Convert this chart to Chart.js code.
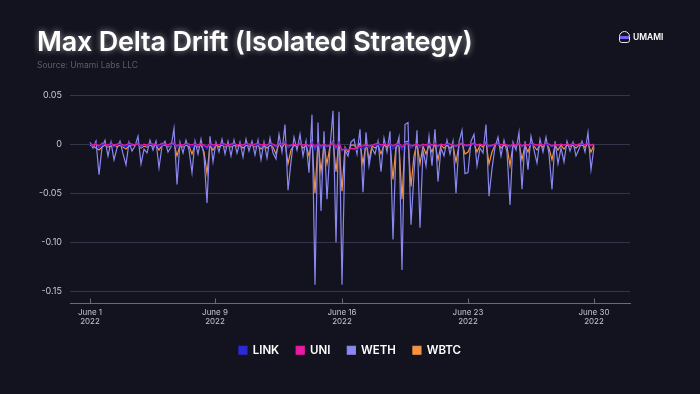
<!DOCTYPE html>
<html>
<head>
<meta charset="utf-8">
<script src="https://cdn.jsdelivr.net/npm/chart.js@4.4.0/dist/chart.umd.min.js"></script>
<style>
  html, body { margin: 0; padding: 0; background: #13131f; }
  #wrap { position: relative; width: 700px; height: 394px; background: #13131f; overflow: hidden; }
  #titulo { position: absolute; left: 37px; top: 25px; font-family: Inter, sans-serif; font-weight: 600; font-size: 27px; color: #fff; text-shadow: 0 0 6px rgba(255,255,255,0.55); letter-spacing: -0.2px; }
  #fonte { position: absolute; left: 37px; top: 60px; font-family: Inter, sans-serif; font-size: 8.5px; color: #5c5c6c; }
  #logo { position: absolute; left: 619px; top: 31px; font-family: Inter, sans-serif; font-weight: 600; font-size: 8.5px; color: #fff; display: flex; align-items: center; gap: 3px; }
  #logo .icone { width: 11px; height: 12px; border-radius: 6px 6px 3px 3px; border: 1.5px solid #e8e8f0; box-sizing: border-box; background: linear-gradient(#13131f 0 40%, #7a5cf0 40% 70%, #13131f 70%); }
  #grafico { position: absolute; left: 0; top: 0; }
</style>
</head>
<body>
<div id="wrap">
  <canvas id="grafico" width="700" height="394"></canvas>
  <div id="titulo">Max Delta Drift (Isolated Strategy)</div>
  <div id="fonte">Source: Umami Labs LLC</div>
  <div id="logo"><div class="icone"></div>UMAMI</div>
</div>
<script>
// Valores (um ponto a cada ~4h, 1 a 30 de junho)
const weth = [
  0.002, -0.004, 0.003, -0.031, -0.003, 0.004, -0.012, 0.002, -0.016, -0.004,
  0.003, -0.010, -0.021, 0.002, -0.007, -0.002, 0.008, -0.020, -0.005, -0.009,
  0.004, -0.006, 0.003, -0.024, -0.002, 0.003, -0.008, -0.003, 0.016, -0.041,
  0.002, -0.009, 0.004, -0.006, -0.029, 0.003, -0.010, 0.005, -0.012, -0.060,
  0.008, -0.018, 0.002, -0.008, 0.005, -0.010, 0.003, -0.012, 0.004, -0.009,
  0.002, -0.013, 0.005, -0.007, 0.003, -0.011, 0.004, -0.016, 0.002, -0.014,
  0.006, -0.009, -0.015, 0.010, -0.008, 0.020, -0.047, -0.018, 0.007, -0.006,
  0.010, -0.012, 0.003, -0.029, 0.030, -0.143, 0.022, -0.068, 0.013, -0.056,
  -0.004, 0.034, -0.100, 0.033, -0.143, -0.006, -0.012, 0.002, 0.005, -0.010,
  0.015, -0.049, 0.012, -0.022, -0.004, -0.010, 0.003, -0.028, 0.006, -0.008,
  0.013, -0.097, -0.005, 0.007, -0.128, 0.020, 0.022, -0.082, -0.030, 0.014,
  -0.085, -0.006, -0.022, 0.008, -0.022, 0.015, -0.038, -0.004, -0.012, 0.004,
  -0.010, 0.003, -0.050, 0.002, 0.014, -0.030, -0.029, 0.003, 0.010, -0.022,
  -0.004, -0.009, 0.020, -0.053, -0.025, -0.003, 0.007, -0.012, 0.004, -0.008,
  -0.062, 0.002, -0.006, 0.012, -0.046, 0.003, -0.026, 0.008, -0.006, -0.019,
  0.005, -0.008, 0.007, -0.010, -0.046, 0.003, -0.020, -0.004, -0.018, 0.003,
  -0.007, 0.002, -0.012, -0.005, 0.003, -0.008, 0.012, -0.026, -0.003
];
const wbtc = [
  -0.001, -0.002, -0.004, -0.006, -0.003, -0.001, -0.003, -0.002, -0.001, -0.003,
  -0.001, -0.003, -0.005, -0.002, -0.001, -0.001, 0.001, -0.004, -0.002, -0.003,
  -0.001, -0.002, -0.001, -0.006, -0.001, -0.001, -0.003, -0.001, 0.001, -0.012,
  -0.001, -0.003, -0.001, -0.002, -0.010, -0.001, -0.003, -0.001, -0.008, -0.030,
  -0.001, -0.006, -0.001, -0.003, -0.001, -0.003, -0.001, -0.003, -0.001, -0.002,
  -0.001, -0.004, -0.001, -0.002, -0.001, -0.003, -0.001, -0.005, -0.001, -0.004,
  -0.001, -0.003, -0.010, 0.001, -0.004, 0.002, -0.020, -0.006, -0.001, -0.002,
  0.001, -0.004, -0.001, -0.012, 0.003, -0.050, 0.002, -0.028, -0.001, -0.020,
  -0.002, 0.003, -0.028, 0.003, -0.048, -0.003, -0.008, -0.001, -0.001, -0.004,
  0.001, -0.020, 0.001, -0.016, -0.002, -0.004, -0.001, -0.010, -0.001, -0.003,
  0.001, -0.036, -0.002, -0.001, -0.056, 0.002, 0.003, -0.043, -0.012, 0.001,
  -0.020, -0.002, -0.010, -0.001, -0.008, 0.001, -0.016, -0.001, -0.004, -0.001,
  -0.004, -0.001, -0.018, -0.001, 0.001, -0.010, -0.008, -0.001, 0.001, -0.008,
  -0.001, -0.003, 0.002, -0.020, -0.008, -0.001, 0.001, -0.004, -0.001, -0.002,
  -0.022, -0.001, -0.002, 0.001, -0.016, -0.001, -0.008, 0.001, -0.002, -0.006,
  -0.001, -0.003, 0.001, -0.004, -0.016, -0.001, -0.006, -0.001, -0.005, -0.001,
  -0.002, -0.001, -0.004, -0.001, -0.001, -0.003, 0.001, -0.008, -0.001
];
const link = [
  0, -0.002, 0.001, -0.004, -0.001, 0, -0.002, 0, -0.003, -0.001,
  0, -0.002, -0.003, 0, -0.001, 0, 0.001, -0.003, -0.001, -0.002,
  0, -0.001, 0, -0.003, -0.001, 0, -0.002, -0.001, 0.001, -0.004,
  0, -0.002, 0, -0.001, -0.003, 0, -0.002, 0, -0.002, -0.005,
  0, -0.003, 0, -0.001, 0, -0.002, 0, -0.002, 0, -0.001,
  0, -0.002, 0, -0.001, 0, -0.002, 0, -0.003, 0, -0.002,
  0, -0.001, -0.003, 0.001, -0.001, 0.002, -0.004, -0.002, 0, -0.001,
  0.001, -0.002, 0, -0.003, 0.002, -0.006, 0.001, -0.004, 0, -0.003,
  -0.001, 0.002, -0.005, 0.002, -0.007, -0.004, -0.006, -0.005, -0.004, -0.006,
  -0.003, -0.005, -0.002, -0.004, -0.001, -0.002, 0, -0.003, 0, -0.001,
  0.001, -0.005, -0.001, 0, -0.006, 0.001, 0.002, -0.004, -0.002, 0,
  -0.004, -0.001, -0.002, 0, -0.002, 0.001, -0.003, 0, -0.001, 0,
  -0.001, 0, -0.003, 0, 0.001, -0.002, -0.002, 0, 0, -0.002,
  0, -0.001, 0.001, -0.003, -0.002, 0, 0, -0.001, 0, -0.001,
  -0.004, 0, -0.001, 0.001, -0.003, 0, -0.002, 0, -0.001, -0.002,
  0, -0.001, 0, -0.001, -0.003, 0, -0.002, 0, -0.001, 0,
  -0.001, 0, -0.002, 0, 0, -0.001, 0.001, -0.002, 0
];
const uni = [
  0.001, -0.001, 0, -0.002, 0.001, 0, -0.001, 0.001, -0.001, 0,
  0.001, -0.001, -0.001, 0.001, 0, -0.001, 0.001, -0.002, 0, -0.001,
  0.001, 0, -0.001, -0.001, 0.001, 0, -0.001, 0.001, 0.001, -0.002,
  0, -0.001, 0.001, 0, -0.001, 0.001, -0.001, 0, -0.001, -0.003,
  0.001, -0.001, 0, -0.001, 0.001, 0, -0.001, 0, 0.001, -0.001,
  0, -0.001, 0.001, 0, -0.001, 0, 0.001, -0.001, 0, -0.001,
  0.001, 0, -0.002, 0.001, 0, 0.001, -0.002, -0.001, 0, -0.001,
  0.001, -0.001, 0, -0.002, 0.001, -0.003, 0.001, -0.002, 0, -0.002,
  -0.001, 0.001, -0.003, 0.001, -0.006, -0.005, -0.006, -0.004, -0.005, -0.003,
  -0.002, -0.002, 0, -0.002, -0.001, 0, 0.001, -0.001, 0, -0.001,
  0.001, -0.002, 0, 0.001, -0.003, 0, 0.001, -0.002, -0.001, 0,
  -0.002, 0, -0.001, 0.001, -0.001, 0, -0.002, 0, -0.001, 0.001,
  0, -0.001, -0.002, 0, 0.001, -0.001, -0.001, 0, 0.001, -0.001,
  0, -0.001, 0.001, -0.002, -0.001, 0, 0.001, -0.001, 0, -0.001,
  -0.002, 0, -0.001, 0.001, -0.002, 0, -0.001, 0.001, 0, -0.001,
  0, -0.001, 0.001, 0, -0.002, 0, -0.001, 0, -0.001, 0,
  -0.001, 0.001, -0.001, 0, 0.001, -0.001, 0.001, -0.001, 0
];

// Rótulos do eixo X (posição em passos) e do eixo Y
const posDatas = [0, 41.67, 84, 126, 168];
const rotulosDatas = [['June 1', '2022'], ['June 9', '2022'], ['June 16', '2022'], ['June 23', '2022'], ['June 30', '2022']];
const ticksY = [0.05, 0, -0.05, -0.10, -0.15];

const passos = weth.map((_, i) => i);

function serie(nome, valores, cor, ordem) {
    return {
        label: nome,
        data: valores,
        borderColor: cor,
        backgroundColor: cor,
        borderWidth: 1.2,
        pointRadius: 0,
        tension: 0,
        order: ordem,
    };
}

const ctx = document.getElementById('grafico').getContext('2d');
new Chart(ctx, {
    type: 'line',
    data: {
        labels: passos,
        datasets: [
            serie('LINK', link, '#2a2ad8', 1),
            serie('UNI', uni, '#ec1aa2', 0),
            serie('WETH', weth, '#8a88f0', 2),
            serie('WBTC', wbtc, '#f59244', 3),
        ],
    },
    options: {
        responsive: false,
        animation: false,
        layout: { padding: { left: 0, right: 0, top: 95, bottom: 28 } },
        plugins: {
            tooltip: { enabled: false },
            legend: {
                position: 'bottom',
                labels: {
                    color: '#ffffff',
                    font: { family: 'Inter', size: 11.5, weight: '600' },
                    boxWidth: 8,
                    boxHeight: 8,
                    padding: 17,
                    sort: (a, b) => a.datasetIndex - b.datasetIndex,
                },
            },
        },
        scales: {
            x: {
                type: 'linear',
                min: -6.67,
                max: 180,
                afterBuildTicks: scale => { scale.ticks = posDatas.map(v => ({ value: v })); },
                afterFit: scale => { scale.height = 24; },
                ticks: {
                    color: '#c4c4ce',
                    font: { family: 'Inter', size: 8, lineHeight: 1.1 },
                    padding: 10,
                    maxRotation: 0,
                    autoSkip: false,
                    callback: (v, i) => rotulosDatas[i],
                },
                grid: { drawOnChartArea: false, color: '#6a6a78', tickLength: -5 },
                border: { color: '#6a6a78', width: 1 },
            },
            y: {
                min: -0.1622,
                max: 0.05,
                afterBuildTicks: scale => { scale.ticks = ticksY.map(v => ({ value: v })); },
                afterFit: scale => { scale.width = 70; },
                ticks: {
                    color: '#c8c8d2',
                    font: { family: 'Inter', size: 9 },
                    padding: 8,
                    callback: v => (v === 0 ? '0' : v.toFixed(2)),
                },
                grid: { color: '#34344a', drawTicks: false },
                border: { display: false },
            },
            // eixo vazio à direita só para reservar a margem
            margem: {
                position: 'right',
                afterFit: scale => { scale.width = 70; },
                ticks: { display: false },
                grid: { display: false },
                border: { display: false },
            },
        },
    },
});
</script>
</body>
</html>
